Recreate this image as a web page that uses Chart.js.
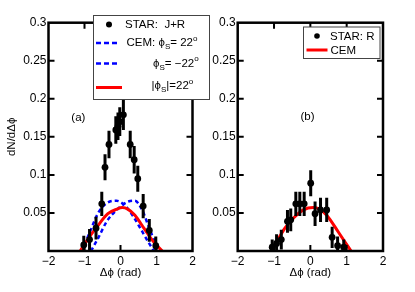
<!DOCTYPE html>
<html><head><meta charset="utf-8">
<script src="https://cdn.jsdelivr.net/npm/chart.js@4"></script>
<style>
html,body{margin:0;padding:0;background:#fff;width:415px;height:292px;overflow:hidden}
#ca{position:absolute;left:0;top:0}
#cb{position:absolute;left:200px;top:0}
</style></head><body>
<canvas id="ca" width="215" height="292"></canvas>
<canvas id="cb" width="215" height="292"></canvas>
<script>
// ---- tick labels ----
const xTickLabels = ['\u22122', '\u22121', '0', '1', '2'];
const yTickLabels = ['', '0.05', '0.1', '0.15', '0.2', '0.25', '0.3'];

// ---- panel (a): STAR J+R data ----
const starJR_x = [-1.02, -0.86, -0.68, -0.52, -0.43, -0.32, -0.13, -0.07, -0.02, 0.08, 0.27, 0.38, 0.48, 0.63, 0.80, 0.98];
const starJR_y = [0.008, 0.015, 0.030, 0.062, 0.110, 0.140, 0.159, 0.164, 0.170, 0.179, 0.140, 0.120, 0.095, 0.059, 0.027, 0.007];
const starJR_err = [0.012, 0.014, 0.015, 0.016, 0.017, 0.018, 0.018, 0.018, 0.019, 0.020, 0.018, 0.018, 0.017, 0.016, 0.015, 0.012];

// CEM phi_s = 22 deg
const cemPos_x = [-1.08, -0.85, -0.62, -0.38, -0.11, 0.12, 0.36, 0.55, 0.77, 0.93];
const cemPos_y = [0.000, 0.025, 0.050, 0.063, 0.066, 0.060, 0.045, 0.030, 0.012, 0.000];
// CEM phi_s = -22 deg
const cemNeg_x = [-0.82, -0.62, -0.38, -0.06, 0.22, 0.40, 0.61, 0.79, 0.98, 1.12];
const cemNeg_y = [0.000, 0.017, 0.039, 0.056, 0.065, 0.066, 0.053, 0.031, 0.010, 0.000];
// CEM |phi_s| = 22 deg
const cemAbs_x = [-1.12, -0.90, -0.65, -0.35, -0.10, 0.05, 0.20, 0.40, 0.65, 0.92, 1.16];
const cemAbs_y = [0.000, 0.016, 0.032, 0.049, 0.055, 0.057, 0.055, 0.047, 0.030, 0.012, 0.000];

// ---- panel (b): STAR R data ----
const starR_x = [-1.05, -0.93, -0.80, -0.63, -0.54, -0.40, -0.29, -0.17, 0.01, 0.13, 0.28, 0.45, 0.60, 0.75, 0.92];
const starR_y = [0.005, 0.010, 0.015, 0.039, 0.041, 0.062, 0.062, 0.062, 0.089, 0.049, 0.054, 0.054, 0.018, 0.007, 0.005];
const starR_err = [0.010, 0.012, 0.013, 0.015, 0.015, 0.016, 0.016, 0.016, 0.017, 0.016, 0.016, 0.016, 0.014, 0.012, 0.010];
const cemR_x = [-1.08, -0.88, -0.70, -0.47, -0.19, 0.08, 0.25, 0.45, 0.77, 0.95, 1.12];
const cemR_y = [0.000, 0.016, 0.030, 0.043, 0.054, 0.057, 0.055, 0.047, 0.025, 0.012, 0.000];

const FONT = "'Liberation Sans', Arial, sans-serif";
const pts = (xs, ys) => xs.map((x, i) => ({x: x, y: ys[i]}));

function richText(ctx, x, y, segs, size) {
  let cx = x;
  ctx.textBaseline = 'middle';
  ctx.textAlign = 'left';
  for (const s of segs) {
    const fs = s.sub || s.sup ? size * 0.7 : size;
    const dy = s.sub ? size * 0.35 : (s.sup ? -size * 0.4 : 0);
    ctx.font = fs + 'px ' + FONT;
    ctx.fillText(s.t, cx, y + dy);
    cx += ctx.measureText(s.t).width;
  }
}

function decoPlugin(opts) {
  return {
    id: 'deco',
    afterDatasetsDraw(chart) {
      const ctx = chart.ctx, xs = chart.scales.x, ys = chart.scales.y, ca = chart.chartArea;
      ctx.save();
      ctx.beginPath(); ctx.rect(ca.left, ca.top, ca.right - ca.left, ca.bottom - ca.top); ctx.clip();
      ctx.strokeStyle = '#000'; ctx.lineWidth = 3;
      for (let i = 0; i < opts.ex.length; i++) {
        const px = xs.getPixelForValue(opts.ex[i]);
        ctx.beginPath();
        ctx.moveTo(px, ys.getPixelForValue(opts.ey[i] - opts.ee[i]));
        ctx.lineTo(px, ys.getPixelForValue(opts.ey[i] + opts.ee[i]));
        ctx.stroke();
      }
      ctx.restore();
    },
    afterDraw(chart) {
      const ctx = chart.ctx, xs = chart.scales.x, ys = chart.scales.y, ca = chart.chartArea;
      ctx.save();
      // inward ticks
      ctx.strokeStyle = '#000'; ctx.lineWidth = 2;
      const tl = 6;
      for (const v of [-1, 0, 1]) {
        const px = xs.getPixelForValue(v);
        ctx.beginPath();
        ctx.moveTo(px, ca.bottom); ctx.lineTo(px, ca.bottom - tl);
        ctx.moveTo(px, ca.top); ctx.lineTo(px, ca.top + tl);
        ctx.stroke();
      }
      for (const v of [0.05, 0.1, 0.15, 0.2, 0.25]) {
        const py = ys.getPixelForValue(v);
        ctx.beginPath();
        ctx.moveTo(ca.left, py); ctx.lineTo(ca.left + tl, py);
        ctx.moveTo(ca.right, py); ctx.lineTo(ca.right - tl, py);
        ctx.stroke();
      }
      // frame
      ctx.lineWidth = 2.5;
      ctx.strokeRect(ca.left, ca.top, ca.right - ca.left, ca.bottom - ca.top);
      // panel label
      ctx.fillStyle = '#000';
      ctx.font = '11.5px ' + FONT;
      ctx.textAlign = 'center'; ctx.textBaseline = 'middle';
      ctx.fillText(opts.label, xs.getPixelForValue(opts.labelPos[0]), ys.getPixelForValue(opts.labelPos[1]));
      // legend
      opts.legend(ctx);
      ctx.restore();
    }
  };
}

function baseOptions(yw, padR, showYTitle) {
  return {
    responsive: false,
    animation: false,
    devicePixelRatio: 1,
    layout: {padding: {left: 0, top: 22.7, right: padR, bottom: 0}},
    plugins: {legend: {display: false}, tooltip: {enabled: false}},
    scales: {
      x: {
        type: 'linear', min: -2, max: 2,
        afterFit(s) { s.height = 41; },
        grid: {display: false, drawTicks: false}, border: {display: false},
        ticks: {stepSize: 1, padding: 3, color: '#000', font: {family: FONT, size: 12},
          callback: (v, i) => xTickLabels[i]},
        title: {display: true, text: '\u0394\u03d5 (rad)', color: '#000', font: {family: FONT, size: 11.5},
          padding: {top: 0, bottom: 12}}
      },
      y: {
        type: 'linear', min: 0, max: 0.3,
        afterFit(s) { s.width = yw; },
        grid: {display: false, drawTicks: false}, border: {display: false},
        ticks: {stepSize: 0.05, padding: 2, color: '#000', font: {family: FONT, size: 12},
          callback: (v, i) => yTickLabels[i]},
        title: {display: showYTitle, text: 'dN/d\u0394\u03d5', color: '#000', font: {family: FONT, size: 11.5},
          padding: {top: 5, bottom: 0}}
      }
    }
  };
}

// ---- chart (a) ----
new Chart(document.getElementById('ca'), {
  type: 'scatter',
  data: {
    datasets: [
      {label: 'STAR: J+R', data: pts(starJR_x, starJR_y), showLine: false, pointRadius: 3.4,
        backgroundColor: '#000', borderColor: '#000', pointBorderWidth: 0},
      {label: '|\u03d5S|=22\u00b0', data: pts(cemAbs_x, cemAbs_y), showLine: true, pointRadius: 0,
        borderColor: '#ff0000', borderWidth: 3, cubicInterpolationMode: 'monotone'},
      {label: 'CEM: \u03d5S= 22\u00b0', data: pts(cemPos_x, cemPos_y), showLine: true, pointRadius: 0,
        borderColor: '#0000ff', borderWidth: 2.5, borderDash: [4, 3], cubicInterpolationMode: 'monotone'},
      {label: '\u03d5S= \u221222\u00b0', data: pts(cemNeg_x, cemNeg_y), showLine: true, pointRadius: 0,
        borderColor: '#0000ff', borderWidth: 2.5, borderDash: [4, 3], cubicInterpolationMode: 'monotone'}
    ]
  },
  options: baseOptions(48.5, 22.5, true),
  plugins: [decoPlugin({
    ex: starJR_x, ey: starJR_y, ee: starJR_err, label: '(a)', labelPos: [-1.17, 0.175],
    legend(ctx) {
      ctx.fillStyle = '#fff';
      ctx.fillRect(93.5, 15.5, 116, 84);
      ctx.strokeStyle = '#444'; ctx.lineWidth = 1; ctx.setLineDash([]);
      ctx.strokeRect(93.5, 15.5, 116, 84);
      ctx.fillStyle = '#000';
      ctx.beginPath(); ctx.arc(109, 24.5, 3, 0, Math.PI * 2); ctx.fill();
      richText(ctx, 125, 24.5, [{t: 'STAR:  J+R'}], 11.5);
      ctx.strokeStyle = '#0000ff'; ctx.lineWidth = 2.5; ctx.setLineDash([5, 3]);
      ctx.beginPath(); ctx.moveTo(96, 43); ctx.lineTo(120, 43); ctx.stroke();
      ctx.beginPath(); ctx.moveTo(96, 63.5); ctx.lineTo(120, 63.5); ctx.stroke();
      ctx.setLineDash([]);
      ctx.strokeStyle = '#ff0000'; ctx.lineWidth = 3;
      ctx.beginPath(); ctx.moveTo(96, 87.5); ctx.lineTo(122, 87.5); ctx.stroke();
      ctx.fillStyle = '#000';
      richText(ctx, 126.5, 43, [{t: 'CEM: \u03d5'}, {t: 'S', sub: true}, {t: '= 22'}, {t: 'o', sup: true}], 11.5);
      richText(ctx, 153, 63.5, [{t: '\u03d5'}, {t: 'S', sub: true}, {t: '= \u221222'}, {t: 'o', sup: true}], 11.5);
      richText(ctx, 151.5, 86, [{t: '|\u03d5'}, {t: 'S', sub: true}, {t: '|=22'}, {t: 'o', sup: true}], 11.5);
    }
  })]
});

// ---- chart (b) ----
new Chart(document.getElementById('cb'), {
  type: 'scatter',
  data: {
    datasets: [
      {label: 'STAR: R', data: pts(starR_x, starR_y), showLine: false, pointRadius: 3.4,
        backgroundColor: '#000', borderColor: '#000', pointBorderWidth: 0},
      {label: 'CEM', data: pts(cemR_x, cemR_y), showLine: true, pointRadius: 0,
        borderColor: '#ff0000', borderWidth: 3, cubicInterpolationMode: 'monotone'}
    ]
  },
  options: baseOptions(37.7, 32, false),
  plugins: [decoPlugin({
    ex: starR_x, ey: starR_y, ee: starR_err, label: '(b)', labelPos: [-0.08, 0.176],
    legend(ctx) {
      ctx.fillStyle = '#fff';
      ctx.fillRect(103.5, 27, 76.5, 31.5);
      ctx.strokeStyle = '#444'; ctx.lineWidth = 1; ctx.setLineDash([]);
      ctx.strokeRect(103.5, 27, 76.5, 31.5);
      ctx.fillStyle = '#000';
      ctx.beginPath(); ctx.arc(117, 36, 2.8, 0, Math.PI * 2); ctx.fill();
      richText(ctx, 130, 36.5, [{t: 'STAR: R'}], 11.5);
      ctx.strokeStyle = '#ff0000'; ctx.lineWidth = 3;
      ctx.beginPath(); ctx.moveTo(106.5, 50); ctx.lineTo(127.5, 50); ctx.stroke();
      richText(ctx, 130.5, 50.5, [{t: 'CEM'}], 11.5);
    }
  })]
});
</script>
</body></html>
